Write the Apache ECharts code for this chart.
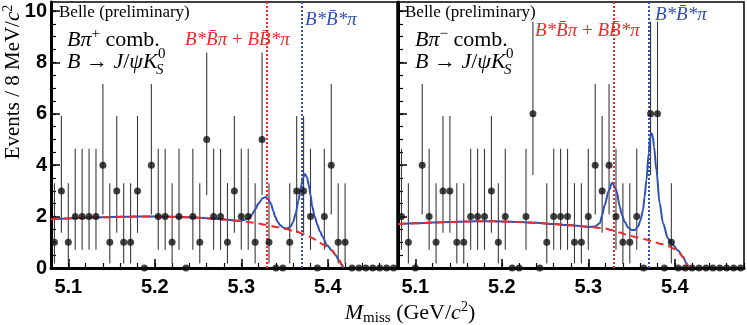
<!DOCTYPE html>
<html><head><meta charset="utf-8">
<script src="https://cdn.jsdelivr.net/npm/echarts@6/dist/echarts.min.js"></script>
<style>html,body{margin:0;padding:0;background:#fff}#c{width:747px;height:325px}</style>
</head><body><div id="c"></div>
<script>
// ---- data ----
const binCenters = [5.084,5.092,5.100,5.108,5.116,5.124,5.132,5.140,5.148,5.156,
  5.164,5.172,5.180,5.188,5.196,5.204,5.212,5.220,5.228,5.236,
  5.244,5.252,5.260,5.268,5.276,5.284,5.292,5.300,5.308,5.316,
  5.324,5.332,5.340,5.348,5.356,5.364,5.372,5.380,5.388,5.396,
  5.404,5.412,5.420,5.428,5.436,5.444,5.452,5.460,5.468,5.476];
const countsPlus = [1,3,1,2,2,2,2,4,1,3,1,1,3,0,4,2,2,1,2,0,
  2,1,5,2,2,1,3,2,2,1,5,1,0,0,1,3,3,2,0,2,4,1,1,0,0,0,0,0,0,0];
const countsMinus = [2,1,0,4,2,1,3,3,1,1,2,2,2,3,1,2,0,0,2,6,
  0,1,2,2,2,1,1,2,4,3,4,2,1,1,2,0,6,6,0,1,0,0,0,0,0,0,0,0,0,0];
// Poisson (68%) interval edges per count 0..6
const errLow  = [0, 0.173, 0.708, 1.367, 2.086, 2.840, 3.620];
const errHigh = [1.841, 3.300, 4.638, 5.918, 7.163, 8.382, 9.584];
// fit curves [M_miss, events]
const totalPlus = [[5.080,1.90],[5.100,1.93],[5.120,1.96],[5.140,1.97],[5.160,1.99],[5.180,2.00],[5.200,2.00],
  [5.220,1.99],[5.240,1.97],[5.260,1.94],[5.280,1.89],[5.295,1.84],[5.300,1.84],[5.305,1.89],[5.309,1.96],
  [5.312,2.06],[5.316,2.28],[5.320,2.52],[5.325,2.72],[5.3285,2.76],[5.331,2.68],[5.334,2.52],[5.337,2.22],
  [5.339,2.00],[5.342,1.80],[5.345,1.67],[5.348,1.58],[5.351,1.54],[5.354,1.55],[5.357,1.61],[5.360,1.80],
  [5.363,2.13],[5.366,2.62],[5.369,3.16],[5.371,3.48],[5.3735,3.66],[5.376,3.52],[5.378,3.23],[5.380,2.85],
  [5.382,2.39],[5.385,1.98],[5.388,1.67],[5.391,1.42],[5.394,1.22],[5.399,0.89],
  [5.405,0.68],[5.409,0.50],[5.413,0.30],[5.416,0.13],[5.418,0.0]];
const bkgPlus = [[5.080,1.90],[5.100,1.93],[5.120,1.96],[5.140,1.97],[5.160,1.99],[5.180,2.00],[5.200,2.00],
  [5.220,1.99],[5.240,1.97],[5.260,1.94],[5.280,1.89],[5.295,1.84],[5.310,1.78],[5.320,1.73],[5.328,1.68],
  [5.340,1.60],[5.351,1.52],[5.363,1.42],[5.374,1.30],[5.382,1.17],[5.389,1.02],[5.395,0.90],[5.401,0.77],
  [5.405,0.68],[5.409,0.50],[5.413,0.30],[5.416,0.13],[5.418,0.0]];
const totalMinus = [[5.080,1.71],[5.100,1.74],[5.120,1.77],[5.140,1.79],[5.160,1.81],[5.180,1.82],[5.200,1.81],
  [5.220,1.79],[5.240,1.76],[5.260,1.71],[5.280,1.66],[5.300,1.60],[5.3075,1.61],[5.3133,1.74],[5.316,2.05],
  [5.319,2.45],[5.3235,3.00],[5.3275,3.32],[5.3325,3.03],[5.3364,2.39],[5.339,2.05],[5.342,1.80],[5.346,1.58],
  [5.350,1.48],[5.354,1.48],[5.3575,1.61],[5.3603,1.85],[5.3633,2.26],[5.365,2.75],[5.3672,3.42],[5.3698,4.46],
  [5.3715,5.05],[5.373,5.24],[5.3745,5.15],[5.376,4.72],[5.3787,3.81],[5.3825,2.52],[5.3864,1.74],[5.392,1.16],
  [5.398,0.89],[5.4037,0.68],[5.4095,0.44],[5.4134,0.18],[5.416,0.0]];
const bkgMinus = [[5.080,1.71],[5.100,1.74],[5.120,1.77],[5.140,1.79],[5.160,1.81],[5.180,1.82],[5.200,1.81],
  [5.220,1.79],[5.240,1.76],[5.260,1.71],[5.280,1.66],[5.300,1.60],[5.3075,1.58],[5.319,1.54],[5.3268,1.48],
  [5.336,1.38],[5.346,1.28],[5.355,1.20],[5.3652,1.12],[5.375,1.02],[5.3845,0.93],[5.392,0.86],[5.398,0.76],
  [5.4037,0.66],[5.4095,0.42],[5.4145,0.12],[5.416,0.0]];
const thresholds = [5.3275, 5.3728];
const xMajorTicks = [5.1, 5.2, 5.3, 5.4];
const xMinorTicks = [5.08,5.10,5.12,5.14,5.16,5.18,5.20,5.22,5.24,5.26,5.28,5.30,5.32,5.34,5.36,5.38,5.40,5.42,5.44,5.46,5.48];
const yMajorTicks = [0, 2, 4, 6, 8, 10];
const yMinorTicks = [0.5,1,1.5,2,2.5,3,3.5,4,4.5,5,5.5,6,6.5,7,7.5,8,8.5,9,9.5,10];

// ---- styling ----
const RED = '#ee2a2a', BLUE = '#2f50b4';
const serif = "'Liberation Serif','DejaVu Serif',serif";
const sans = "'Liberation Sans',Arial,sans-serif";

function xAxes(gi) {
  return [{
    type:'value', gridIndex:gi, min:5.08, max:5.48, position:'bottom',
    axisLine:{show:true, onZero:false, lineStyle:{color:'#000', width:3}},
    axisTick:{show:true, inside:true, length:9, customValues:xMajorTicks, lineStyle:{color:'#000', width:1.5}},
    axisLabel:{show:true, customValues:xMajorTicks, formatter:v=>v.toFixed(1), fontFamily:sans, fontWeight:'bold', fontSize:20, color:'#000', margin:9},
    splitLine:{show:false}
  },{
    type:'value', gridIndex:gi, min:5.08, max:5.48, position:'bottom',
    axisLine:{show:false}, axisLabel:{show:false}, splitLine:{show:false},
    axisTick:{show:true, inside:true, length:5, customValues:xMinorTicks, lineStyle:{color:'#000', width:1.2}}
  }];
}
function yAxes(gi, labels) {
  return [{
    type:'value', gridIndex:gi, min:0, max:10.35, position:'left',
    axisLine:{show:true, onZero:false, lineStyle:{color:'#000', width:3}},
    axisTick:{show:true, inside:true, length:9, customValues:yMajorTicks, lineStyle:{color:'#000', width:1.5}},
    axisLabel:{show:labels, customValues:yMajorTicks, fontFamily:sans, fontWeight:'bold', fontSize:20, color:'#000', margin:4},
    splitLine:{show:false}
  },{
    type:'value', gridIndex:gi, min:0, max:10.35, position:'left',
    axisLine:{show:false}, axisLabel:{show:false}, splitLine:{show:false},
    axisTick:{show:true, inside:true, length:5, customValues:yMinorTicks, lineStyle:{color:'#000', width:1.2}}
  }];
}
function errData(counts) {
  const out = [];
  counts.forEach((n,i)=>{ if (n>0) out.push([binCenters[i], errLow[n], errHigh[n]]); });
  return out;
}
function panelSeries(gi, counts, total, bkg) {
  const xa = gi*2, ya = gi*2;
  return [{
    type:'custom', xAxisIndex:xa, yAxisIndex:ya, z:1,
    data: errData(counts),
    renderItem(params, api) {
      const p1 = api.coord([api.value(0), api.value(1)]);
      const p2 = api.coord([api.value(0), api.value(2)]);
      return {type:'line', shape:{x1:p1[0], y1:p1[1], x2:p2[0], y2:p2[1]}, style:{stroke:'#3a3a3a', lineWidth:1.1}};
    },
    markLine:{silent:true, symbol:'none', label:{show:false},
      lineStyle:{type:'dotted', width:2},
      data:[{xAxis:thresholds[0], lineStyle:{color:RED, type:'dotted', width:2}},
            {xAxis:thresholds[1], lineStyle:{color:BLUE, type:'dotted', width:2}}]}
  },{
    type:'line', xAxisIndex:xa, yAxisIndex:ya, z:3, data:bkg, showSymbol:false, smooth:0.3, smoothMonotone:'x',
    lineStyle:{color:RED, width:2, type:[8,5]}
  },{
    type:'line', xAxisIndex:xa, yAxisIndex:ya, z:2, data:total, showSymbol:false, smooth:0.3, smoothMonotone:'x',
    lineStyle:{color:BLUE, width:2}
  },{
    type:'scatter', xAxisIndex:xa, yAxisIndex:ya, z:5, clip:false, symbol:'circle', symbolSize:7,
    itemStyle:{color:'#111'}, data: counts.map((n,i)=>[binCenters[i], n])
  }];
}

const richBase = {
  i:{fontStyle:'italic', fontFamily:serif, fontSize:22, lineHeight:26},
  r:{fontFamily:serif, fontSize:22, lineHeight:26},
  sup:{fontFamily:serif, fontSize:15, lineHeight:14, verticalAlign:'top'}
};
function txt(x, y, text, opts) {
  return {type:'text', x:x, y:y, z:100, style:Object.assign({text:text, fill:'#000', verticalAlign:'middle', align:'left'}, opts||{})};
}
function labelRich(size, color) {
  return {
    i:{fontStyle:'italic', fontFamily:serif, fontSize:size, fill:color},
    r:{fontFamily:serif, fontSize:size, fill:color}
  };
}
const graphics = [];
[{x0:59, x1:67, sign:'+', redX:185, redY:40, blueX:305, blueY:20},
 {x0:405, x1:415, sign:'\u2212', redX:535, redY:31, blueX:655, blueY:15}].forEach(p=>{
  graphics.push(txt(p.x0, 13, 'Belle (preliminary)', {fontFamily:serif, fontSize:17}));
  graphics.push(txt(p.x1, 40, '{i|B\u03c0}{sup|'+p.sign+'}{r| comb.}', {rich:richBase}));
  graphics.push(txt(p.x1, 62, '{i|B}{r| \u2192 }{i|J}{r|/}{i|\u03c8K}', {rich:richBase}));
  graphics.push(txt(p.x1+91, 54, '0', {fontFamily:serif, fontSize:15}));
  graphics.push(txt(p.x1+89, 70, 'S', {fontFamily:serif, fontStyle:'italic', fontSize:15}));
  graphics.push(txt(p.redX, p.redY, '{i|B*B\u0304\u03c0}{r| + }{i|BB\u0304*\u03c0}', {rich:labelRich(19, RED)}));
  graphics.push(txt(p.blueX, p.blueY, '{i|B*B\u0304*\u03c0}', {rich:labelRich(19, BLUE)}));
});
// axis titles
graphics.push({type:'text', x:13, y:82, rotation:Math.PI/2, z:100,
  style:{text:'{r|Events / 8 MeV/}{i|c}{sup|2}', align:'center', verticalAlign:'middle',
    rich:{r:{fontFamily:serif, fontSize:21, lineHeight:24}, i:{fontFamily:serif, fontStyle:'italic', fontSize:21, lineHeight:24}, sup:{fontFamily:serif, fontSize:14, lineHeight:13, verticalAlign:'top'}}}});
graphics.push({type:'text', x:410, y:313, z:100,
  style:{text:'{i|M}{sub|miss}{r| (GeV/}{i|c}{sup|2}{r|)}', align:'center', verticalAlign:'middle',
    rich:{r:{fontFamily:serif, fontSize:22, lineHeight:26}, i:{fontFamily:serif, fontStyle:'italic', fontSize:22, lineHeight:26},
      sup:{fontFamily:serif, fontSize:14, lineHeight:13, verticalAlign:'top'}, sub:{fontFamily:serif, fontSize:15, lineHeight:14, verticalAlign:'bottom'}}}});

const chart = echarts.init(document.getElementById('c'), null, {renderer:'canvas'});
chart.setOption({
  animation:false,
  backgroundColor:'#fff',
  grid:[{left:51, right:350, top:2, bottom:57, show:true, borderColor:'#000', borderWidth:1.5, backgroundColor:'transparent'},
        {left:398, right:3, top:2, bottom:57, show:true, borderColor:'#000', borderWidth:1.5, backgroundColor:'transparent'}],
  xAxis:[...xAxes(0), ...xAxes(1)],
  yAxis:[...yAxes(0, true), ...yAxes(1, false)],
  series:[...panelSeries(0, countsPlus, totalPlus, bkgPlus), ...panelSeries(1, countsMinus, totalMinus, bkgMinus)],
  graphic:graphics
});
</script></body></html>
